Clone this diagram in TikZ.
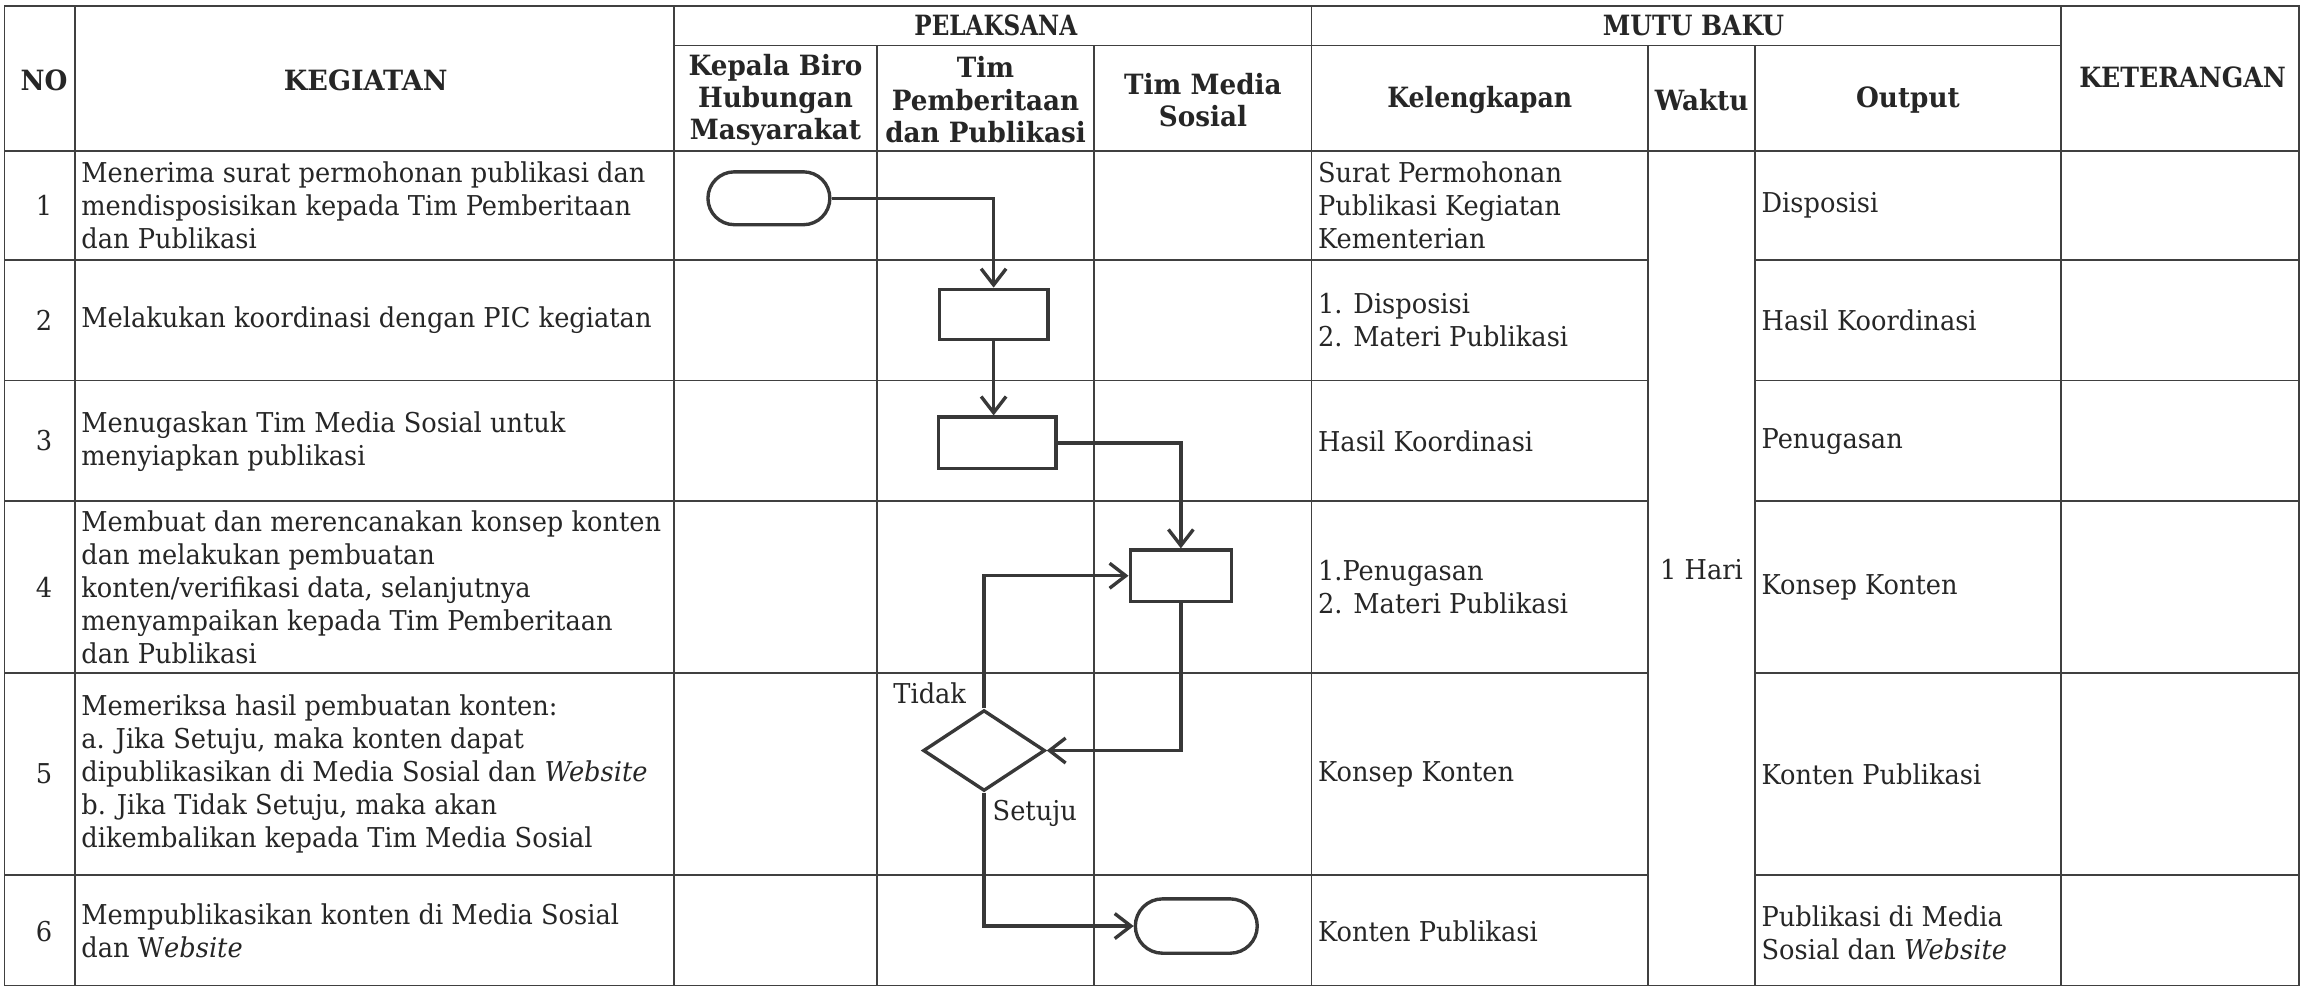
\documentclass[tikz,border=0pt]{standalone}
\usepackage{fontspec}
\usepackage{graphicx}
\setmainfont{DejaVu Serif}[FakeStretch=0.94]
\usetikzlibrary{arrows.meta,shapes.geometric,shapes.misc,calc}
\newcommand\bodyf{\fontsize{9.3}{11.25}\selectfont}
\newcommand\headf{\fontsize{9.5}{11}\selectfont\bfseries}
\begin{document}
\begin{tikzpicture}[x=0.5pt,y=-0.5pt,
  tline/.style={line width=0.6pt, draw=black!75},
  fline/.style={line width=1.15pt, draw=black!78},
  farrow/.style={fline,-{Straight Barb[length=5.5pt,width=8.5pt,line width=1.15pt]}},
  box/.style={draw=black!78,line width=1.15pt,rectangle,inner sep=0pt},
  term/.style={draw=black!78,line width=1.15pt,rounded rectangle,inner sep=0pt,minimum width=41.5pt,minimum height=18pt},
  dec/.style={draw=black!78,line width=1.15pt,diamond,inner sep=0pt,minimum width=41.5pt,minimum height=27.5pt},
  body/.style={font=\bodyf, text=black!85, inner sep=0pt, align=left},
  num/.style={font=\bodyf, text=black!85, inner sep=0pt},
  head/.style={font=\headf, text=black!85, inner sep=0pt, align=center},
]
\useasboundingbox (0,0) rectangle (1568,673);
% ---------------- table grid
\draw[tline] (3,4) rectangle (1565,671);
\draw[tline] (459,31) -- (1403,31);
\draw[tline] (3,103) -- (1565,103);
\foreach \y in {177,259,341,458,596} {
  \draw[tline] (3,\y) -- (1122,\y);
  \draw[tline] (1195,\y) -- (1565,\y);
}
\foreach \x in {51,459,893,1403} \draw[tline] (\x,4) -- (\x,671);
\foreach \x in {597,745,1122,1195} \draw[tline] (\x,31) -- (\x,671);
% ---------------- header
\node[head] (hno) at (30,55) {NO};
\node[head] (hkeg) at (249,55) {\scalebox{1.03}[1]{KEGIATAN}};
\node[head] (hpel) at (678,17.5) {\scalebox{0.88}[1]{PELAKSANA}};
\node[head] (hmutu) at (1153,17.5) {\scalebox{0.95}[1]{MUTU BAKU}};
\node[head] (hket) at (1486,53) {\scalebox{0.96}[1]{KETERANGAN}};
\node[head] (hkep) at (528,68) {Kepala Biro\\Hubungan\\Masyarakat};
\node[head] (htim) at (671,68) {Tim\\Pemberitaan\\dan Publikasi};
\node[head] (hmed) at (819,68) {Tim Media\\Sosial};
\node[head] (hkel) at (1007.5,68) {\scalebox{0.96}[1]{Kelengkapan}};
\node[head] (hwak) at (1158.5,68) {Waktu};
\node[head] (hout) at (1299,68) {Output};
% ---------------- numbers
\node[num] (n1) at (30,140) {1};
\node[num] (n2) at (30,218) {2};
\node[num] (n3) at (30,300) {3};
\node[num] (n4) at (30,400) {4};
\node[num] (n5) at (30,527) {5};
\node[num] (n6) at (30,634) {6};
% ---------------- kegiatan
\node[body,anchor=west] (k1) at (55,140) {Menerima surat permohonan publikasi dan\\mendisposisikan kepada Tim Pemberitaan\\dan Publikasi};
\node[body,anchor=west] (k2) at (55,218) {Melakukan koordinasi dengan PIC kegiatan};
\node[body,anchor=west] (k3) at (55,300.5) {Menugaskan Tim Media Sosial untuk\\menyiapkan publikasi};
\node[body,anchor=west] (k4) at (55,400) {Membuat dan merencanakan konsep konten\\dan melakukan pembuatan\\konten/verifikasi data, selanjutnya\\menyampaikan kepada Tim Pemberitaan\\dan Publikasi};
\node[body,anchor=west] (k5) at (55,527) {Memeriksa hasil pembuatan konten:\\a. Jika Setuju, maka konten dapat\\dipublikasikan di Media Sosial dan \textit{Website}\\b. Jika Tidak Setuju, maka akan\\dikembalikan kepada Tim Media Sosial};
\node[body,anchor=west] (k6) at (55,634) {Mempublikasikan konten di Media Sosial\\dan W\textit{ebsite}};
% ---------------- kelengkapan
\node[body,anchor=west] (l1) at (897,140) {Surat Permohonan\\Publikasi Kegiatan\\Kementerian};
\node[body,anchor=west] (l2) at (897,218) {1. Disposisi\\2. Materi Publikasi};
\node[body,anchor=west] (l3) at (897,300.5) {Hasil Koordinasi};
\node[body,anchor=west] (l4) at (897,399.5) {1.Penugasan\\2. Materi Publikasi};
\node[body,anchor=west] (l5) at (897,527.5) {Konsep Konten};
\node[body,anchor=west] (l6) at (897,634) {Konten Publikasi};
% ---------------- waktu
\node[num] (w) at (1158.5,388) {1 Hari};
% ---------------- output
\node[body,anchor=west] (o1) at (1199,140) {Disposisi};
\node[body,anchor=west] (o2) at (1199,218) {Hasil Koordinasi};
\node[body,anchor=west] (o3) at (1199,300.5) {Penugasan};
\node[body,anchor=west] (o4) at (1199,400) {Konsep Konten};
\node[body,anchor=west] (o5) at (1199,527.5) {Konten Publikasi};
\node[body,anchor=west] (o6) at (1199,635) {Publikasi di Media\\Sosial dan \textit{Website}};
% ---------------- flowchart
\node[term] (t1) at (523.5,135) {};
\node[box,minimum width=37pt,minimum height=17pt] (b2) at (676.5,214) {};
\node[box,minimum width=40pt,minimum height=17.5pt] (b3) at (679,301.5) {};
\node[box,minimum width=34.5pt,minimum height=17.5pt] (b4) at (804,392) {};
\node[dec] (d5) at (670,511) {};
\node[term,minimum height=18.5pt] (t6) at (814.5,630.5) {};
\draw[farrow] (t1.east) -| (b2.north);
\draw[farrow] (b2.south) -- (b2.south |- b3.north);
\draw[farrow] (b3.east) -| (b4.north);
\draw[farrow] (b4.south) |- (d5.east);
\draw[farrow] (d5.north) |- (b4.west);
\draw[farrow] (d5.south) |- (t6.west);
\node[num] (ltidak) at (633,472) {Tidak};
\node[num] (lsetuju) at (704.5,554) {Setuju};
\end{tikzpicture}
\end{document}
